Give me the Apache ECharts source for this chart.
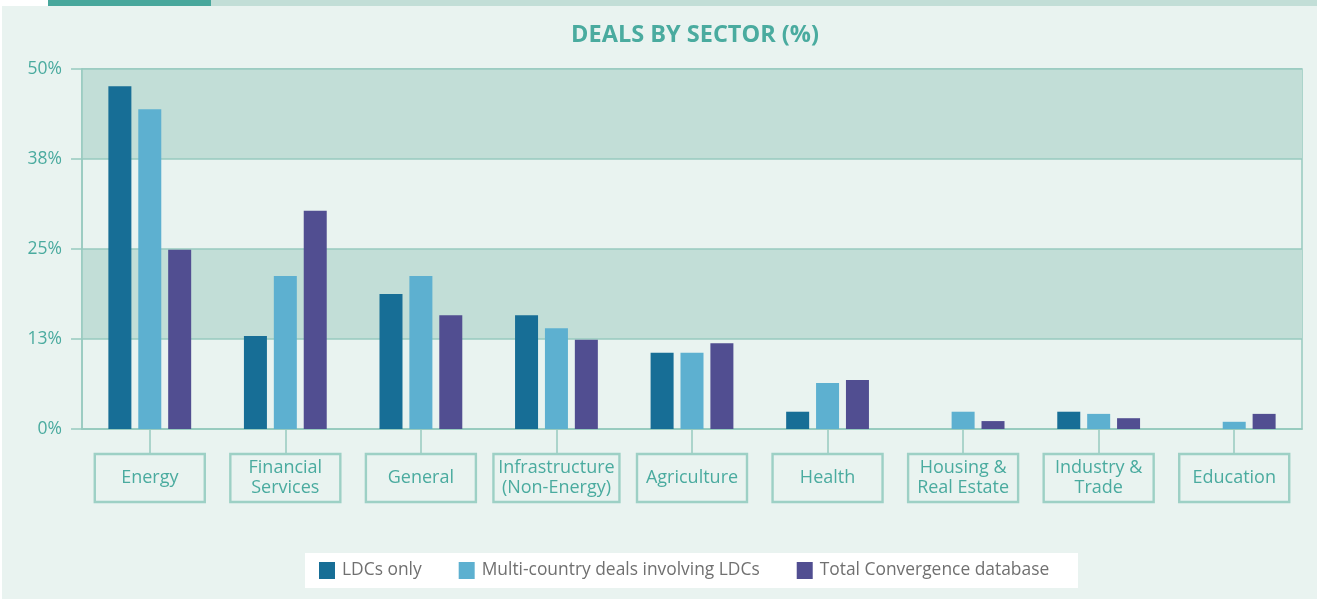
<!DOCTYPE html>
<html>
<head>
<meta charset="utf-8">
<script src="https://cdn.jsdelivr.net/npm/echarts@6/dist/echarts.min.js"></script>
<style>
html,body{margin:0;padding:0;background:#ffffff;}
#chart{width:1318px;height:599px;}
</style>
</head>
<body>
<div id="chart"></div>
<script>
const categories = ['Energy', 'Financial\nServices', 'General', 'Infrastructure\n(Non-Energy)', 'Agriculture', 'Health', 'Housing &\nReal Estate', 'Industry &\nTrade', 'Education'];
const seriesNames = ['LDCs only', 'Multi-country deals involving LDCs', 'Total Convergence database'];
const ldcOnly = [47.6, 12.9, 18.75, 15.8, 10.6, 2.4, 0, 2.4, 0];
const multiCountry = [44.4, 21.25, 21.25, 14.0, 10.6, 6.4, 2.4, 2.1, 1.0];
const totalDatabase = [24.9, 30.3, 15.8, 12.4, 11.9, 6.8, 1.1, 1.5, 2.1];
const yTicks = [0, 12.5, 25, 37.5, 50];

const teal = '#4aab9f';
const lineCol = '#97cabf';
const colors = ['#176e96', '#5db0d0', '#514e91'];
const font = '"Open Sans", sans-serif';

const catData = categories.map(c => ({
  value: c,
  textStyle: {
    width: c.indexOf('Infrastructure') === 0 ? 124 : 108,
    padding: c.indexOf('\n') >= 0 ? [4, 1, 4, 1] : [14, 1, 14, 1]
  }
}));

const chart = echarts.init(document.getElementById('chart'));
chart.setOption({
  animation: false,
  backgroundColor: 'transparent',
  graphic: [
    { type: 'rect', shape: { x: 2, y: 6, width: 1315, height: 593 }, style: { fill: '#e9f3f0' }, z: -10 },
    { type: 'rect', shape: { x: 48, y: 0, width: 163, height: 6 }, style: { fill: '#48a79c' }, z: -10 },
    { type: 'rect', shape: { x: 211, y: 0, width: 1106, height: 6 }, style: { fill: '#c2ded7' }, z: -10 },
    { type: 'rect', shape: { x: 305, y: 553, width: 773, height: 35 }, style: { fill: '#ffffff' }, z: -5 }
  ],
  title: {
    text: 'DEALS BY SECTOR (%)',
    left: 690, top: 18, textAlign: 'center',
    textStyle: { color: teal, fontFamily: font, fontWeight: 'bold', fontSize: 23.5 }
  },
  legend: {
    left: 319, top: 562, padding: 0,
    itemWidth: 16, itemHeight: 17, itemGap: 37,
    icon: 'rect',
    textStyle: { color: '#707070', fontFamily: font, fontSize: 17.4, padding: [0, 0, 0, 2] },
    data: seriesNames
  },
  grid: {
    left: 82, right: 16, top: 69, bottom: 170,
    show: true, borderColor: lineCol, borderWidth: 1.5, backgroundColor: 'transparent'
  },
  xAxis: {
    type: 'category',
    data: catData,
    axisLine: { show: true, lineStyle: { color: lineCol, width: 1.5 } },
    axisTick: { show: true, alignWithLabel: true, length: 25, lineStyle: { color: lineCol, width: 1.5 } },
    axisLabel: {
      interval: 0, margin: 25,
      color: teal, fontFamily: font, fontSize: 18, lineHeight: 20,
      align: 'center',
      borderColor: '#9dd0c5', borderWidth: 1.2,
      backgroundColor: 'transparent'
    }
  },
  yAxis: {
    type: 'value',
    min: 0, max: 50, interval: 12.5,
    axisLine: { show: true, lineStyle: { color: lineCol, width: 1.5 } },
    axisTick: { show: true, length: 11, lineStyle: { color: lineCol, width: 1.5 } },
    axisLabel: {
      margin: 20, color: teal, fontFamily: font, fontSize: 17.5,
      formatter: v => Math.round(v) + '%'
    },
    splitLine: { show: true, lineStyle: { color: lineCol, width: 1.5 } },
    splitArea: { show: true, areaStyle: { color: ['rgba(0,0,0,0)', '#c2ded7'] } }
  },
  series: [
    { name: seriesNames[0], type: 'bar', data: ldcOnly, barWidth: 23, barGap: '30%', itemStyle: { color: colors[0] } },
    { name: seriesNames[1], type: 'bar', data: multiCountry, barWidth: 23, barGap: '30%', itemStyle: { color: colors[1] } },
    { name: seriesNames[2], type: 'bar', data: totalDatabase, barWidth: 23, barGap: '30%', itemStyle: { color: colors[2] } }
  ]
});
</script>
</body>
</html>
